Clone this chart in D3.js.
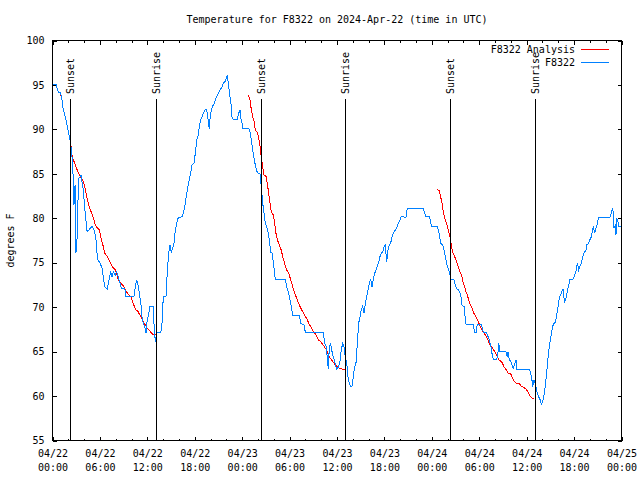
<!DOCTYPE html>
<html>
<head>
<style>
  body { margin: 0; background: #fff; }
  svg { display: block; font-family: "DejaVu Sans Mono", monospace; font-size: 10px; }
  .line { fill: none; stroke-width: 1px; shape-rendering: crispEdges; }
  .axis line { stroke: #000; shape-rendering: crispEdges; }
  .axis text { fill: #000; font-family: "DejaVu Sans Mono", monospace; font-size: 10px; }
</style>
</head>
<body>
<script src="https://d3js.org/d3.v7.min.js"></script>
<script>
// observations: hours after 2024-04-22 00:00 UTC, degrees F
var obsHours = [0,0.44,0.73,1.04,1.2,1.37,1.62,1.8,1.96,2.13,2.3,2.47,2.59,2.72,2.85,2.97,3.1,3.23,3.35,3.61,3.86,4.11,4.37,4.62,5.0,5.34,5.5,5.59,5.76,6.01,6.26,6.43,6.6,6.93,7.11,7.36,7.53,7.69,7.95,8.12,8.38,8.54,8.71,9.14,9.3,10.31,10.48,10.65,10.82,10.98,11.16,11.33,11.49,11.67,11.83,11.92,12.17,12.34,12.75,12.84,13.01,13.1,13.18,13.69,13.86,14.02,14.36,14.53,14.7,14.87,15.03,15.21,15.37,15.54,15.72,15.88,16.39,16.55,16.73,16.89,17.15,17.4,17.65,17.9,18.07,18.25,18.41,18.58,18.75,18.92,19.08,19.33,19.51,19.68,19.84,19.93,20.09,20.27,20.44,20.6,20.78,21.03,21.19,21.45,21.61,21.87,22.04,22.12,22.3,22.46,22.62,22.71,22.88,23.38,23.56,23.73,23.81,23.98,24.07,24.83,24.99,25.16,25.33,25.5,25.66,25.84,26.0,26.26,26.42,26.6,26.76,26.93,27.1,27.27,27.43,27.61,27.77,27.94,28.12,28.19,29.46,29.63,29.89,30.05,30.22,30.39,31.23,31.41,31.82,31.99,32.24,34.27,34.44,34.61,34.77,34.9,35.03,35.2,35.37,35.53,35.71,35.96,36.21,36.38,36.54,36.72,36.88,37.05,37.23,37.39,37.56,37.73,37.9,38.06,38.24,38.4,38.57,38.74,38.91,39.07,39.25,39.42,39.58,39.76,39.92,40.09,40.26,40.43,40.59,40.77,40.93,41.1,41.28,41.44,41.6,41.78,41.95,42.11,42.29,42.45,42.62,42.79,42.96,43.12,43.38,43.55,43.72,43.97,44.14,44.73,44.89,46.92,47.1,47.26,47.68,47.86,47.93,48.69,48.87,49.03,49.12,49.37,49.54,49.7,49.88,50.04,50.21,50.39,50.55,50.8,50.97,51.15,51.4,51.56,51.73,51.82,52.07,52.16,52.32,53.25,53.34,53.42,53.59,53.68,53.75,54.26,54.43,54.6,54.94,55.11,55.27,55.45,55.61,55.78,56.21,56.37,56.46,56.62,57.38,57.55,57.64,57.8,57.98,58.14,58.31,58.49,58.65,58.74,60.33,60.51,60.67,60.76,60.93,61.09,61.27,61.43,61.69,61.85,62.03,62.19,62.36,62.53,62.7,62.86,63.04,63.21,63.37,63.62,63.8,63.96,64.13,64.3,64.47,64.6,64.79,64.98,65.14,65.32,65.48,65.82,65.99,66.15,66.33,66.41,66.58,66.75,66.91,67.09,67.25,67.51,67.6,67.85,68.01,68.18,68.35,68.43,68.61,68.77,68.94,69.11,70.54,70.71,70.88,70.96,71.05,71.21,71.3,71.39,71.56,71.64,72];
var obsTemps = [95.1,95.1,94.2,94.1,93.3,92.2,91.4,90.7,89.9,89.2,88.4,86.9,85.1,81.5,83.7,76.1,77.6,82.1,84.5,84.8,83.4,80.9,78.5,78.7,79.1,78.5,77.6,76.4,75.3,75.0,74.4,73.4,72.3,72.0,72.9,74.0,73.4,74.0,73.6,74.0,73.2,72.7,72.1,72.1,71.2,71.2,72.3,73.1,72.5,71.6,70.6,68.9,68.2,67.8,67.1,68.1,69.3,70.1,70.1,68.2,66.1,66.7,67.1,67.1,68.2,71.2,71.2,74.0,76.1,77.0,76.2,76.6,77.2,78.7,79.4,80.0,80.2,80.6,81.3,82.3,83.6,84.7,86.0,86.2,87.3,88.8,89.2,90.3,91.1,91.4,91.8,92.2,92.2,91.1,90.1,91.1,92.2,92.6,92.9,93.3,93.7,94.1,94.4,94.8,95.2,95.4,95.9,96.1,94.8,93.7,92.6,91.4,91.1,91.1,91.8,92.2,91.4,90.7,90.1,90.1,89.7,88.8,87.7,86.8,86.0,85.3,85.1,85.0,83.6,81.7,80.6,79.4,79.1,78.5,77.6,76.2,76.1,75.1,73.8,73.1,73.1,72.3,71.6,70.8,70.1,69.1,69.1,68.2,68.0,67.2,67.1,67.1,65.9,65.6,64.4,63.0,65.6,65.9,65.0,64.4,63.9,63.0,63.3,63.9,65.2,65.9,65.6,64.4,63.7,62.2,61.4,61.1,61.1,62.2,63.3,63.7,65.9,68.2,68.9,69.7,70.1,69.3,70.4,71.2,71.9,72.7,73.1,72.3,73.1,73.8,74.2,74.6,75.1,75.7,76.1,76.2,76.8,77.0,75.1,76.4,77.0,77.2,77.9,78.3,78.7,78.9,79.4,79.8,80.2,80.1,81.1,81.1,80.6,80.2,80.2,79.6,79.1,79.1,78.5,77.7,77.2,77.0,76.4,75.7,74.9,74.4,74.0,73.2,73.1,73.1,72.5,72.1,71.9,71.6,71.0,70.2,70.1,69.3,68.1,68.1,67.5,67.1,67.1,67.6,68.1,68.1,67.4,67.1,67.1,66.7,66.3,65.7,64.8,64.1,64.1,64.9,66.0,65.0,65.0,64.4,65.0,64.1,63.9,63.5,63.1,63.6,64.1,63.0,63.0,62.6,61.8,61.0,61.8,61.4,60.6,60.1,59.6,59.1,59.4,60.1,61.2,62.6,64.3,65.6,66.5,67.4,68.1,68.3,69.1,70.0,71.0,71.4,71.8,72.0,70.6,71.0,71.8,72.4,73.1,73.1,73.4,73.8,74.4,75.0,74.2,74.6,74.9,75.7,76.1,76.4,77.0,77.2,77.6,77.9,78.7,79.1,78.3,78.9,79.4,80.1,80.1,80.6,81.1,80.6,78.9,79.2,78.1,80.0,79.6,79.1,79.1];

// analysis runs (three separate nights)
var ana1Hours = [0.95,1.2,1.37,1.62,1.8,1.96,2.13,2.3,2.47,2.63,2.81,2.97,3.14,3.39,3.64,3.9,4.07,4.24,4.4,4.58,4.75,5.0,5.25,5.42,5.67,5.92,6.17,6.43,6.6,6.93,7.28,7.53,7.95,8.12,8.29,8.45,8.63,8.88,9.14,9.39,9.64,9.9,10.06,10.31,10.57,10.82,11.07,11.32,11.49,11.74,12.0,12.25,12.5,12.75,13.1];
var ana1Temps = [94.2,93.3,92.2,91.4,90.7,89.9,89.2,88.4,87.1,86.6,86.2,85.8,85.4,84.9,84.5,84.1,83.6,82.8,82.1,81.5,81.0,80.5,79.8,79.2,78.9,78.7,77.7,76.8,76.1,75.7,75.1,74.6,74.2,73.8,73.2,72.9,72.7,72.5,72.1,71.7,71.4,71.2,70.8,70.2,69.7,69.5,69.1,68.7,68.4,68.0,67.6,67.4,67.1,66.9,66.9];
var ana2Hours = [24.78,24.99,25.16,25.33,25.5,25.66,25.91,26.09,26.26,26.42,26.6,26.76,27.02,27.18,27.36,27.52,27.69,27.94,28.12,28.28,28.45,28.7,28.95,29.13,29.38,29.63,29.89,30.14,30.39,30.65,30.9,31.15,31.41,31.66,31.91,32.17,32.42,32.67,32.92,33.18,33.43,33.68,33.94,34.27,34.52,34.77,35.03,35.28,35.53,35.78,36.04,36.38,36.8,37.14];
var ana2Temps = [93.9,93.3,92.2,91.4,90.9,89.9,89.7,89.0,88.1,86.9,85.8,84.9,84.7,83.9,82.8,81.7,80.7,80.4,79.4,78.3,77.6,77.0,76.4,75.7,74.9,74.2,73.8,73.1,72.3,71.6,71.0,70.4,69.9,69.5,69.1,68.7,68.2,67.8,67.4,67.1,66.7,66.3,66.1,65.7,65.4,65.0,64.4,64.1,63.8,63.5,63.3,63.1,63.0,63.0];
var ana3Hours = [48.69,48.94,49.12,49.29,49.45,49.63,49.79,49.96,50.13,50.3,50.46,50.64,50.8,50.97,51.15,51.31,51.47,51.65,51.82,51.98,52.16,52.32,52.49,52.66,52.83,53.08,53.33,53.59,53.75,54.0,54.26,54.51,54.76,55.02,55.19,55.36,55.7,55.95,56.21,56.46,56.88,57.13,57.38,57.64,57.98,58.23,58.48,58.74,59.07,59.32,59.75,60.0,60.26,60.51,60.76,60.93];
var ana3Temps = [83.2,83.1,82.4,81.7,80.7,80.0,79.6,79.1,78.5,77.9,77.0,76.2,75.9,75.5,75.1,74.6,74.2,73.8,73.4,72.7,72.3,71.7,71.4,70.8,70.4,69.9,69.3,68.9,68.6,68.1,67.6,67.2,66.9,66.5,66.1,65.7,65.4,65.0,64.6,64.1,63.8,63.3,63.0,62.6,62.5,62.0,61.6,61.4,61.4,61.1,60.9,60.7,60.3,59.9,59.7,59.7];

var sunHours = [2.25, 13.13, 26.32, 37.07, 50.34, 61.09];
var sunLabels = ["Sunset", "Sunrise", "Sunset", "Sunrise", "Sunset", "Sunrise"];

var yTicks = [55, 60, 65, 70, 75, 80, 85, 90, 95, 100];
var title = "Temperature for F8322 on 2024-Apr-22 (time in UTC)";
var yTitle = "degrees F";
var seriesNames = ["F8322 Analysis", "F8322"];
var seriesColors = ["#ff0000", "#0080ff"];

var width = 640, height = 480;
var margin = {left: 52.5, right: 18.5, top: 40.5, bottom: 39.5};
var t0 = Date.UTC(2024, 3, 22);
function toDate(h) { return new Date(t0 + h * 3600e3); }

var x = d3.scaleUtc().domain([toDate(0), toDate(72)]).range([margin.left, width - margin.right]);
var y = d3.scaleLinear().domain([55, 100]).range([height - margin.bottom, margin.top]);

var svg = d3.select("body").append("svg").attr("width", width).attr("height", height);

//minor ticks every 2 h, top and bottom
svg.append("g").attr("class", "axis")
    .attr("transform", "translate(0," + y(55) + ")")
    .call(d3.axisBottom(x).ticks(d3.utcHour.every(2)).tickSize(-2).tickFormat(""))
    .call(g => g.select(".domain").remove());
svg.append("g").attr("class", "axis")
    .attr("transform", "translate(0," + y(100) + ")")
    .call(d3.axisTop(x).ticks(d3.utcHour.every(2)).tickSize(-2).tickFormat(""))
    .call(g => g.select(".domain").remove());

//major ticks every 6 h with two-line labels
var fmtDay = d3.utcFormat("%m/%d"), fmtTime = d3.utcFormat("%H:%M");
svg.append("g").attr("class", "axis")
    .attr("transform", "translate(0," + y(55) + ")")
    .call(d3.axisBottom(x).ticks(d3.utcHour.every(6)).tickSize(-4).tickFormat(""))
    .call(g => g.select(".domain").remove())
    .selectAll(".tick text")
    .attr("dy", null).attr("y", null)
    .each(function(d) {
      var t = d3.select(this);
      t.append("tspan").attr("x", 0).attr("y", 16).text(fmtDay(d));
      t.append("tspan").attr("x", 0).attr("y", 30).text(fmtTime(d));
    });
svg.append("g").attr("class", "axis")
    .attr("transform", "translate(0," + y(100) + ")")
    .call(d3.axisTop(x).ticks(d3.utcHour.every(6)).tickSize(-4).tickFormat(""))
    .call(g => g.select(".domain").remove());

//y axis left with labels, right mirrored
svg.append("g").attr("class", "axis")
    .attr("transform", "translate(" + x.range()[0] + ",0)")
    .call(d3.axisLeft(y).tickValues(yTicks).tickSize(-4).tickPadding(8))
    .call(g => g.select(".domain").remove());
svg.append("g").attr("class", "axis")
    .attr("transform", "translate(" + x.range()[1] + ",0)")
    .call(d3.axisRight(y).tickValues(yTicks).tickSize(-4).tickFormat(""))
    .call(g => g.select(".domain").remove());

var line = d3.line()
    .x(d => x(toDate(d[0])))
    .y(d => y(d[1]));

[[ana1Hours, ana1Temps], [ana2Hours, ana2Temps], [ana3Hours, ana3Temps]].forEach(function(s) {
  svg.append("path").attr("class", "line")
      .attr("stroke", seriesColors[0])
      .attr("d", line(d3.zip(s[0], s[1])));
});
svg.append("path").attr("class", "line")
    .attr("stroke", seriesColors[1])
    .attr("d", line(d3.zip(obsHours, obsTemps)));

//sunrise / sunset markers
var sun = svg.append("g");
sunHours.forEach(function(h, i) {
  var sx = Math.round(x(toDate(h))) + 0.5;
  sun.append("line")
      .attr("x1", sx).attr("x2", sx)
      .attr("y1", 99).attr("y2", y(55))
      .attr("stroke", "#000").attr("shape-rendering", "crispEdges");
  sun.append("text")
      .attr("transform", "translate(" + sx + ",94) rotate(-90)")
      .attr("dominant-baseline", "central")
      .text(sunLabels[i]);
});

//frame
svg.append("rect")
    .attr("x", x.range()[0]).attr("y", y(100))
    .attr("width", x.range()[1] - x.range()[0])
    .attr("height", y(55) - y(100))
    .attr("fill", "none").attr("stroke", "#000").attr("shape-rendering", "crispEdges");

//titles
svg.append("text").attr("x", (x.range()[0] + x.range()[1]) / 2).attr("y", 23)
    .attr("text-anchor", "middle").text(title);
svg.append("text")
    .attr("transform", "translate(10," + ((y(55) + y(100)) / 2) + ") rotate(-90)")
    .attr("text-anchor", "middle").attr("dominant-baseline", "central")
    .text(yTitle);

//legend
seriesNames.forEach(function(name, i) {
  var ly = 49.5 + i * 13;
  svg.append("text").attr("x", 575).attr("y", ly).attr("dy", "0.35em")
      .attr("text-anchor", "end").text(name);
  svg.append("line").attr("x1", 581).attr("x2", 609).attr("y1", ly).attr("y2", ly)
      .attr("stroke", seriesColors[i]).attr("shape-rendering", "crispEdges");
});
</script>
</body>
</html>
